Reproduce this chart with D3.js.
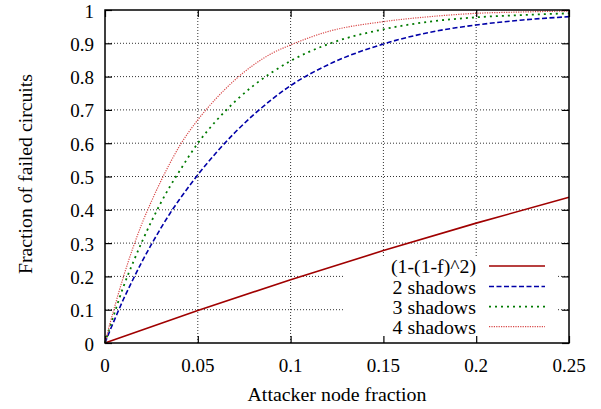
<!DOCTYPE html>
<html>
<head>
<meta charset="utf-8">
<script src="https://cdn.jsdelivr.net/npm/d3@7"></script>
<style>
  html, body { margin: 0; padding: 0; background: #fff; }
</style>
</head>
<body>
<svg id="chart" width="601" height="409"></svg>
<script>
// ---- data ----
const fValues = [0, 0.0025, 0.005, 0.01, 0.015, 0.02, 0.025, 0.03, 0.035, 0.04, 0.05, 0.06, 0.07, 0.08, 0.09, 0.1, 0.12, 0.15, 0.175, 0.2, 0.225, 0.25];
const shadows2 = [0, 0.035, 0.068, 0.132, 0.19, 0.245, 0.296, 0.344, 0.389, 0.43, 0.505, 0.572, 0.632, 0.685, 0.732, 0.773, 0.835, 0.898, 0.933, 0.955, 0.97, 0.98];
const shadows3 = [0, 0.045, 0.088, 0.17, 0.24, 0.305, 0.365, 0.42, 0.47, 0.515, 0.6, 0.668, 0.725, 0.773, 0.813, 0.847, 0.897, 0.942, 0.965, 0.978, 0.985, 0.99];
const shadows4 = [0, 0.055, 0.105, 0.2, 0.285, 0.36, 0.425, 0.485, 0.54, 0.59, 0.67, 0.735, 0.79, 0.835, 0.87, 0.895, 0.935, 0.965, 0.98, 0.99, 0.994, 0.997];
const baseF = [0, 0.05, 0.1, 0.15, 0.2, 0.25];
const baseValues = [0, 0.0975, 0.19, 0.2775, 0.36, 0.4375];
const xTicks = [0, 0.05, 0.1, 0.15, 0.2, 0.25];
const yTicks = [0, 0.1, 0.2, 0.3, 0.4, 0.5, 0.6, 0.7, 0.8, 0.9, 1];
const seriesNames = ["(1-(1-f)^2)", "2 shadows", "3 shadows", "4 shadows"];

// ---- layout ----
const FONT = '"Liberation Serif", "DejaVu Serif", "Times New Roman", serif';
const FS = 19;
const svg = d3.select("#chart");
const L = 105, R = 569, T = 10, B = 343;
const x = d3.scaleLinear().domain([0, 0.25]).range([L, R]);
const y = d3.scaleLinear().domain([0, 1]).range([B, T]);

const styles = [
  { color: "#a00000", dash: null, width: 1.6 },
  { color: "#0000a8", dash: "5,2.5", width: 1.6 },
  { color: "#007a00", dash: "2,4", width: 1.8 },
  { color: "#d84848", dash: "1.2,1.2", width: 1.2 }
];

const series = [
  baseF.map((f, i) => [f, baseValues[i]]),
  fValues.map((f, i) => [f, shadows2[i]]),
  fValues.map((f, i) => [f, shadows3[i]]),
  fValues.map((f, i) => [f, shadows4[i]])
];

// grid
const grid = svg.append("g");
xTicks.filter(t => t > 0 && t < 0.25).forEach(t => {
  grid.append("line").attr("x1", x(t)).attr("x2", x(t)).attr("y1", B).attr("y2", T)
    .attr("stroke", "#000").attr("stroke-width", 1).attr("stroke-dasharray", "1,2").attr("opacity", 0.8);
});
yTicks.filter(t => t > 0 && t < 1).forEach(t => {
  grid.append("line").attr("x1", L).attr("x2", R).attr("y1", y(t)).attr("y2", y(t))
    .attr("stroke", "#000").attr("stroke-width", 1).attr("stroke-dasharray", "1,2").attr("opacity", 0.8);
});

// key background blank
svg.append("rect").attr("x", 345).attr("y", 256).attr("width", 212).attr("height", B - 256)
  .attr("fill", "#fff");

// ticks (inward, mirrored) via axes
const tl = 7;
svg.append("g").attr("transform", `translate(0,${B})`)
  .call(d3.axisTop(x).tickValues(xTicks).tickSize(tl).tickFormat(""))
  .call(g => g.select(".domain").remove());
svg.append("g").attr("transform", `translate(0,${T})`)
  .call(d3.axisBottom(x).tickValues(xTicks).tickSize(tl).tickFormat(""))
  .call(g => g.select(".domain").remove());
svg.append("g").attr("transform", `translate(${L},0)`)
  .call(d3.axisRight(y).tickValues(yTicks).tickSize(tl).tickFormat(""))
  .call(g => g.select(".domain").remove());
svg.append("g").attr("transform", `translate(${R},0)`)
  .call(d3.axisLeft(y).tickValues(yTicks).tickSize(tl).tickFormat(""))
  .call(g => g.select(".domain").remove());
svg.selectAll(".tick line").attr("stroke", "#000").attr("stroke-width", 1.2);

// tick labels
svg.append("g").selectAll("text").data(xTicks).join("text")
  .attr("x", d => x(d)).attr("y", 372).attr("text-anchor", "middle")
  .attr("font-family", FONT).attr("font-size", FS).attr("fill", "#000").text(d => d3.format("")(d));
svg.append("g").selectAll("text").data(yTicks).join("text")
  .attr("x", 94).attr("y", d => y(d) + 7.5).attr("text-anchor", "end")
  .attr("font-family", FONT).attr("font-size", FS).attr("fill", "#000").text(d => d3.format("")(d));

// lines
const line = d3.line().x(d => x(d[0])).y(d => y(d[1])).curve(d3.curveMonotoneX);
series.forEach((s, i) => {
  svg.append("path").datum(s).attr("d", line).attr("fill", "none")
    .attr("stroke", styles[i].color).attr("stroke-width", styles[i].width)
    .attr("stroke-dasharray", styles[i].dash);
});

// frame
svg.append("rect").attr("x", L).attr("y", T).attr("width", R - L).attr("height", B - T)
  .attr("fill", "none").attr("stroke", "#000").attr("stroke-width", 1.5);

// legend
const rows = [266, 286.5, 306.7, 326.7];
const legendW = [85, 83.5, 83.5, 83.5];
seriesNames.forEach((n, i) => {
  svg.append("text").attr("x", 476).attr("y", rows[i] + 7).attr("text-anchor", "end")
    .attr("font-family", FONT).attr("font-size", FS).attr("fill", "#000")
    .attr("textLength", legendW[i]).attr("lengthAdjust", "spacingAndGlyphs").text(n);
  svg.append("line").attr("x1", 489).attr("x2", 545).attr("y1", rows[i]).attr("y2", rows[i])
    .attr("stroke", styles[i].color).attr("stroke-width", styles[i].width)
    .attr("stroke-dasharray", styles[i].dash);
});

// axis titles
svg.append("text").attr("x", 337).attr("y", 401).attr("text-anchor", "middle")
  .attr("font-family", FONT).attr("font-size", FS).attr("fill", "#000")
  .attr("textLength", 179).attr("lengthAdjust", "spacingAndGlyphs").text("Attacker node fraction");
svg.append("text").attr("transform", "translate(32,174) rotate(-90)").attr("text-anchor", "middle")
  .attr("font-family", FONT).attr("font-size", FS).attr("fill", "#000")
  .attr("textLength", 200).attr("lengthAdjust", "spacingAndGlyphs").text("Fraction of failed circuits");
</script>
</body>
</html>
